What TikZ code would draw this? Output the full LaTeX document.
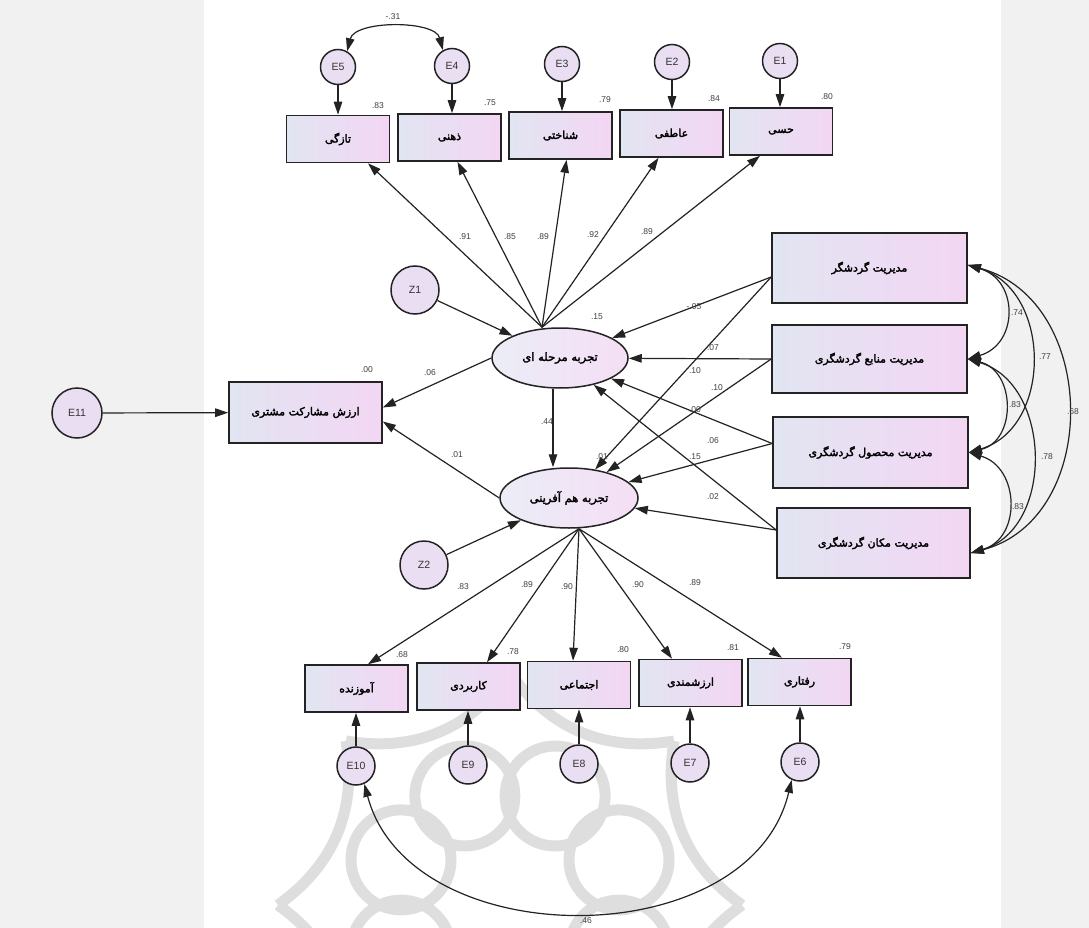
\documentclass[tikz,border=0pt]{standalone}
\usepackage{fontspec}
\setmainfont{Liberation Sans}
\newfontfamily\fa[Script=Arabic,FakeBold=2.5]{DejaVu Sans}
\TeXXeTstate=1
\usetikzlibrary{shapes.geometric,arrows.meta,calc}
\definecolor{stripgray}{RGB}{241,241,241}
\definecolor{boxL}{RGB}{226,229,242}
\definecolor{boxR}{RGB}{243,214,243}
\definecolor{circfill}{RGB}{234,222,243}
\definecolor{linec}{RGB}{35,35,35}
\definecolor{wm}{RGB}{222,222,222}
\tikzset{
  obs/.style={draw=linec, line width=1.6pt, left color=boxL, right color=boxR, inner sep=0pt,
              minimum width=103pt, minimum height=47pt, font=\fa\fontsize{11}{13}\selectfont},
  mbox/.style={obs, minimum width=195pt, minimum height=70pt},
  lat/.style={ellipse, draw=linec, line width=1.5pt, left color=boxL!70!white, right color=boxR!80!white,
              inner sep=0pt, font=\fa\fontsize{11.5}{13}\selectfont},
  err/.style={circle, draw=linec, line width=1.5pt, fill=circfill, inner sep=0pt,
              minimum size=35pt, font=\fontsize{10.5}{12}\selectfont, text=black!80},
  arr/.style={draw=linec, line width=1.2pt, -{Triangle[length=13pt,width=8.5pt]}},
  darr/.style={draw=linec, line width=1.2pt, {Triangle[length=13pt,width=8.5pt]}-{Triangle[length=13pt,width=8.5pt]}},
  lab/.style={inner sep=0pt, font=\fontsize{8.5}{10}\selectfont, text=black!75},
}
\begin{document}
\begin{tikzpicture}[x=1pt,y=-1pt]
\useasboundingbox (0,0) rectangle (1089,928);
\fill[white] (0,0) rectangle (1089,928);
\fill[stripgray] (0,0) rectangle (204,928);
\fill[stripgray] (1001,0) rectangle (1089,928);
% watermark ornament
\begin{scope}[draw=wm, line width=11pt]
  \foreach \k in {0,...,7}
    \draw ({510+232*cos(45*\k)},{905+232*sin(45*\k)}) to[bend right=32] ({510+232*cos(45*\k+45)},{905+232*sin(45*\k+45)});
  \foreach \k in {0,...,7} \draw ({510+118*cos(22.5+45*\k)}, {905+118*sin(22.5+45*\k)}) circle (50);
\end{scope}

% top observed
\node[obs] (t1) at (338,139) {\beginR تازگی\endR};
\node[obs] (t2) at (449.5,137.5) {\beginR ذهنی\endR};
\node[obs] (t3) at (560.5,135.5) {\beginR شناختی\endR};
\node[obs] (t4) at (671.5,133.5) {\beginR عاطفی\endR};
\node[obs] (t5) at (781,131.5) {\beginR حسی\endR};
\node[err] (E5) at (338,67) {E5};
\node[err] (E4) at (452,66) {E4};
\node[err] (E3) at (562,64) {E3};
\node[err] (E2) at (672,62) {E2};
\node[err] (E1) at (780,61) {E1};

% latent
\node[lat, minimum width=136pt, minimum height=60pt] (e1) at (560,358) {\beginR تجربه مرحله ای\endR};
\node[lat, minimum width=138pt, minimum height=60pt] (e2) at (569,498) {\beginR تجربه هم آفرینی\endR};
\node[err, minimum size=48pt] (Z1) at (415,290) {Z1};
\node[err, minimum size=48pt] (Z2) at (424,565) {Z2};

% left
\node[obs, minimum width=153pt, minimum height=61pt] (lb) at (305.5,412.5) {\beginR ارزش مشارکت مشتری\endR};
\node[err, minimum size=50pt] (E11) at (77,413) {E11};

% right
\node[mbox] (m1) at (869.5,268) {\beginR مدیریت گردشگر\endR};
\node[mbox, minimum height=68pt] (m2) at (869.5,359) {\beginR مدیریت منابع گردشگری\endR};
\node[mbox, minimum height=71pt] (m3) at (870.5,452.5) {\beginR مدیریت محصول گردشگری\endR};
\node[mbox, minimum width=193pt] (m4) at (873.5,543) {\beginR مدیریت مکان گردشگری\endR};

% bottom observed
\node[obs] (b1) at (356.5,688.5) {\beginR آموزنده\endR};
\node[obs] (b2) at (468.5,686.5) {\beginR کاربردی\endR};
\node[obs] (b3) at (579,685) {\beginR اجتماعی\endR};
\node[obs] (b4) at (690.5,683) {\beginR ارزشمندی\endR};
\node[obs] (b5) at (799.5,682) {\beginR رفتاری\endR};
\node[err, minimum size=38pt] (E10) at (356,766) {E10};
\node[err, minimum size=38pt] (E9) at (468,765) {E9};
\node[err, minimum size=38pt] (E8) at (579,764) {E8};
\node[err, minimum size=38pt] (E7) at (690,763) {E7};
\node[err, minimum size=38pt] (E6) at (800,762) {E6};

% connectors: top
\foreach \e/\t in {E1/t5,E2/t4,E3/t3,E4/t2,E5/t1} \draw[arr] (\e) -- (\e |- \t.north);
\draw[darr] (E5.60) .. controls (355,20) and (435,20) .. (E4.120);
\coordinate (e1t) at ([xshift=-18pt]e1.north);
\draw[arr] (e1t) -- ([xshift=30pt]t1.south);
\draw[arr] (e1t) -- ([xshift=8pt]t2.south);
\draw[arr] (e1t) -- ([xshift=6pt]t3.south);
\draw[arr] (e1t) -- ([xshift=-13pt]t4.south);
\draw[arr] (e1t) -- ([xshift=-21pt]t5.south);
\draw[arr] (Z1) -- (e1);
\draw[arr] (Z2) -- (e2);
\draw[arr] ([xshift=-7pt]e1.south) -- ([xshift=-16pt]e2.north);
\draw[arr] (e1.west) -- ([yshift=5pt]lb.east);
\draw[arr] (e2.west) -- ([yshift=-9pt]lb.east);
\draw[arr] (E11) -- (lb);

% right paths
\coordinate (m1s) at ([yshift=-9pt]m1.west);
\coordinate (m2s) at (m2.west);
\coordinate (m3s) at ([yshift=9pt]m3.west);
\coordinate (m4s) at ([yshift=13pt]m4.west);
\foreach \s in {m1s,m2s,m3s,m4s} {\draw[arr] (\s) -- (e1); \draw[arr] (\s) -- (e2);}

% right correlations
\coordinate (r1) at ([yshift=3pt]m1.east);
\coordinate (r2) at (m2.east);
\coordinate (r3) at (m3.east);
\coordinate (r4) at ([yshift=-10pt]m4.east);
\draw[darr] (r1) .. controls +(51,15) and +(51,-15) .. (r2);
\draw[darr] (r1) .. controls +(84,25) and +(84,-25) .. (r3);
\draw[darr] (r2) .. controls +(48,12) and +(48,-12) .. (r3);
\draw[darr] (r2) .. controls +(84,25) and +(84,-25) .. (r4);
\draw[darr] (r3) .. controls +(51,15) and +(51,-15) .. (r4);
\draw[darr] (r1) .. controls +(131,35) and +(131,-35) .. (r4);

% bottom
\coordinate (e2b) at ([xshift=10pt]e2.south);
\draw[arr] (e2b) -- ([xshift=11.5pt]b1.north);
\draw[arr] (e2b) -- ([xshift=18.5pt]b2.north);
\draw[arr] (e2b) -- ([xshift=-6pt]b3.north);
\draw[arr] (e2b) -- ([xshift=-18.5pt]b4.north);
\draw[arr] (e2b) -- ([xshift=-17.5pt]b5.north);
\foreach \e/\b in {E10/b1,E9/b2,E8/b3,E7/b4,E6/b5} \draw[arr] (\e) -- (\e |- \b.south);
\draw[darr] (E10.-65) .. controls (410,956) and (750,956) .. (E6.-115);

% labels
\node[lab] at (378,106) {.83};
\node[lab] at (490,103) {.75};
\node[lab] at (605,100) {.79};
\node[lab] at (714,99) {.84};
\node[lab] at (827,97) {.80};
\node[lab] at (393,17) {-.31};
\node[lab] at (465,237) {.91};
\node[lab] at (510,237) {.85};
\node[lab] at (543,237) {.89};
\node[lab] at (593,235) {.92};
\node[lab] at (647,232) {.89};
\node[lab] at (597,317) {.15};
\node[lab] at (367,370) {.00};
\node[lab] at (430,373) {.06};
\node[lab] at (457,455) {.01};
\node[lab] at (547,422) {.44};
\node[lab] at (602,457) {.01};
\node[lab] at (694,307) {-.05};
\node[lab] at (713,348) {.07};
\node[lab] at (695,371) {.10};
\node[lab] at (717,388) {.10};
\node[lab] at (695,410) {.00};
\node[lab] at (713,441) {.06};
\node[lab] at (695,457) {.15};
\node[lab] at (713,497) {.02};
\node[lab] at (1017,313) {.74};
\node[lab] at (1045,357) {.77};
\node[lab] at (1015,405) {.83};
\node[lab] at (1073,412) {.68};
\node[lab] at (1047,457) {.78};
\node[lab] at (1018,507) {.83};
\node[lab] at (463,587) {.83};
\node[lab] at (527,585) {.89};
\node[lab] at (567,587) {.90};
\node[lab] at (638,585) {.90};
\node[lab] at (695,583) {.89};
\node[lab] at (402,655) {.68};
\node[lab] at (513,652) {.78};
\node[lab] at (623,650) {.80};
\node[lab] at (733,648) {.81};
\node[lab] at (845,647) {.79};
\node[lab] at (586,921) {.46};
\end{tikzpicture}
\end{document}
